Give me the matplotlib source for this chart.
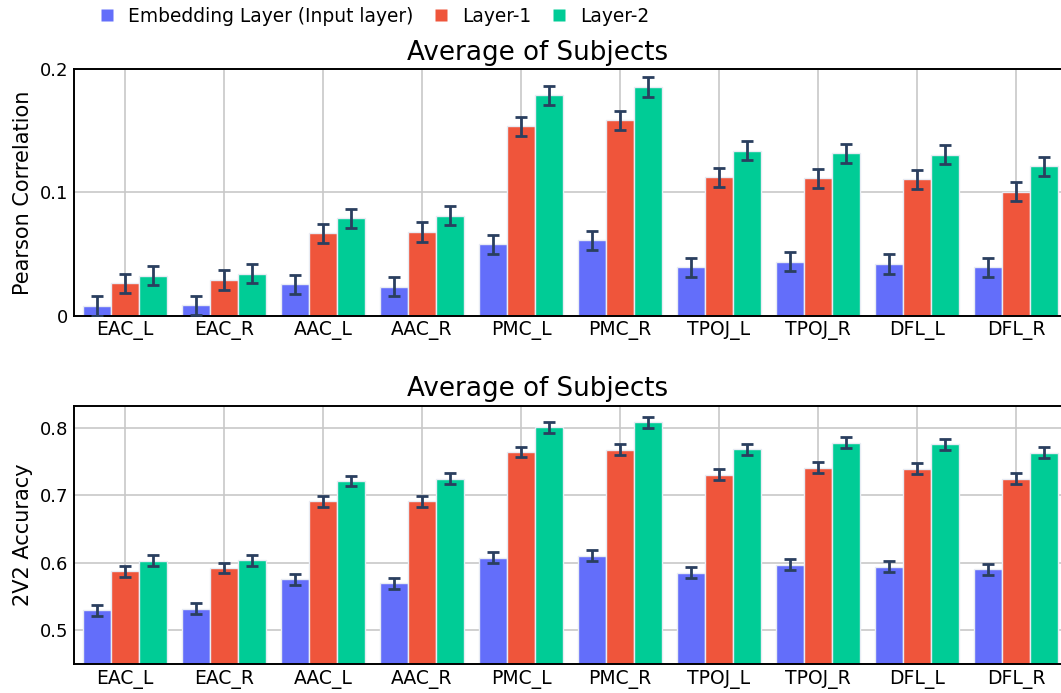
import matplotlib

matplotlib.use("Agg")
import matplotlib.pyplot as plt
from matplotlib.lines import Line2D
import numpy as np

regions = ["EAC_L", "EAC_R", "AAC_L", "AAC_R", "PMC_L",
           "PMC_R", "TPOJ_L", "TPOJ_R", "DFL_L", "DFL_R"]
series_names = ["Embedding Layer (Input layer)", "Layer-1", "Layer-2"]

# Pearson correlation, average of subjects
pearson_embed = [0.0079, 0.0084, 0.0255, 0.0235, 0.0579, 0.0611, 0.0393, 0.0438, 0.0419, 0.0393]
pearson_l1 = [0.0263, 0.0290, 0.0670, 0.0680, 0.1536, 0.1585, 0.1122, 0.1114, 0.1106, 0.1006]
pearson_l2 = [0.0325, 0.0340, 0.0792, 0.0811, 0.1790, 0.1857, 0.1338, 0.1317, 0.1306, 0.1214]
pearson_err = [0.0078] * 10

# 2V2 accuracy, average of subjects
acc_embed = [0.5297, 0.5316, 0.5752, 0.5697, 0.6072, 0.6102, 0.5850, 0.5969, 0.5940, 0.5905]
acc_l1 = [0.5875, 0.5920, 0.6909, 0.6909, 0.7640, 0.7675, 0.7304, 0.7407, 0.7392, 0.7245]
acc_l2 = [0.6028, 0.6038, 0.7210, 0.7245, 0.8006, 0.8080, 0.7680, 0.7776, 0.7751, 0.7630]
acc_err = [0.008] * 10

colors = ["#636efa", "#ef553b", "#00cc96"]
err_color = "#2a3f5f"
grid_color = "#c8c8c8"

W, H = 1061, 693
fig = plt.figure(figsize=(W / 100, H / 100), dpi=100)


def px_axes(left, top, right, bottom):
    return fig.add_axes([left / W, 1 - bottom / H, (right - left) / W, (bottom - top) / H])


def draw_panel(ax, values, errs, ylim, yticks, yticklabels, ylabel):
    x = np.arange(len(regions))
    width = 0.28
    for i, (vals, color) in enumerate(zip(values, colors)):
        ax.bar(x + (i - 1) * width, vals, width, color=color,
               edgecolor="#e8ecf4", linewidth=1.0, zorder=2,
               yerr=errs, error_kw=dict(ecolor=err_color, elinewidth=2,
                                        capsize=4, capthick=2, zorder=3))
    ax.set_xlim(-0.515, 9.455)
    ax.set_ylim(*ylim)
    ax.set_xticks(x)
    ax.set_xticklabels(regions, fontsize=13.5)
    ax.set_yticks(yticks)
    ax.set_yticklabels(yticklabels, fontsize=13)
    ax.tick_params(length=0, pad=4)
    ax.grid(True, color=grid_color, linewidth=1.2, zorder=0)
    ax.set_axisbelow(True)
    for side in ("left", "top", "bottom"):
        ax.spines[side].set_color("black")
        ax.spines[side].set_linewidth(1.4)
    ax.spines["right"].set_visible(False)
    ax.set_ylabel(ylabel, fontsize=15, labelpad=5)
    ax.text(0.47, 1.015, "Average of Subjects", transform=ax.transAxes,
            ha="center", va="bottom", fontsize=18.8)


ax_top = px_axes(74, 69.3, 1061, 315.7)
draw_panel(ax_top, [pearson_embed, pearson_l1, pearson_l2], pearson_err,
           (0, 0.2), [0, 0.1, 0.2], ["0", "0.1", "0.2"], "Pearson Correlation")

ax_bot = px_axes(74, 406, 1061, 664)
draw_panel(ax_bot, [acc_embed, acc_l1, acc_l2], acc_err,
           (0.45, 0.832), [0.5, 0.6, 0.7, 0.8], ["0.5", "0.6", "0.7", "0.8"], "2V2 Accuracy")

handles = [Line2D([], [], marker="s", linestyle="none", markersize=9.2,
                  markerfacecolor=c, markeredgecolor="none") for c in colors]
fig.legend(handles, series_names, loc="center left", bbox_to_anchor=(92.6 / W, 1 - 16 / H),
           ncol=3, frameon=False, fontsize=13.4, handlelength=0.7,
           handletextpad=0.8, columnspacing=1.13, borderaxespad=0)

fig.savefig("out.png", dpi=100)
